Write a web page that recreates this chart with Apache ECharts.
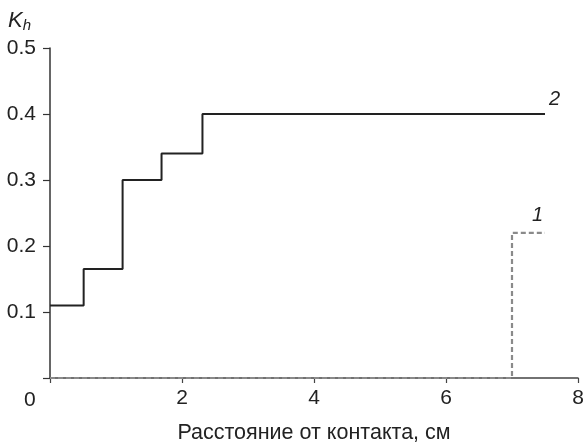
<!DOCTYPE html>
<html>
<head>
<meta charset="utf-8">
<script src="https://cdn.jsdelivr.net/npm/echarts@6/dist/echarts.min.js"></script>
<style>
  html, body { margin: 0; padding: 0; background: #fff; }
  #chart { width: 585px; height: 443px; }
</style>
</head>
<body>
<div id="chart"></div>
<script>
// Step curves of the coefficient K_h versus distance from the contact
const curve2X = [0, 0.51, 1.1, 1.69, 2.31, 7.5];
const curve2Y = [0.11, 0.165, 0.3, 0.34, 0.4, 0.4];
const curve1X = [0, 7.0, 7.5];
const curve1Y = [0, 0.22, 0.22];
const xTicks = [0, 2, 4, 6, 8];
const yTicks = [0.1, 0.2, 0.3, 0.4, 0.5];
const curveNames = ['1', '2'];

const FONT = '"Liberation Sans", Arial, Helvetica, sans-serif';
const TEXT = '#222';

function pairs(xs, ys) { return xs.map((x, i) => [x, ys[i]]); }

function endTag(text, offset) {
  return { show: true, formatter: text, offset: offset, distance: 0,
    fontFamily: FONT, fontSize: 20, fontStyle: 'italic', color: TEXT };
}

const chart = echarts.init(document.getElementById('chart'));
chart.setOption({
  animation: false,
  grid: { left: 50, right: 7, top: 48, bottom: 65, containLabel: false, outerBoundsMode: 'none' },
  xAxis: {
    type: 'value', min: 0, max: 8, interval: 2,
    name: 'Расстояние от контакта, см', nameLocation: 'middle', nameGap: 44,
    nameTextStyle: { fontFamily: FONT, fontSize: 21.5, color: TEXT },
    axisLine: { lineStyle: { color: '#444', width: 1.5 } },
    axisTick: { show: true, length: 5, inside: false, lineStyle: { color: '#444', width: 1.2 } },
    axisLabel: { fontFamily: FONT, fontSize: 21, color: TEXT, margin: 10,
      formatter: v => (v !== 0 && xTicks.includes(v) ? String(v) : '') },
    splitLine: { show: false }
  },
  yAxis: {
    type: 'value', min: 0, max: 0.5, interval: 0.1,
    axisLine: { show: true, lineStyle: { color: '#333', width: 1.5 } },
    axisTick: { show: true, length: 7, lineStyle: { color: '#333', width: 1.2 } },
    axisLabel: { fontFamily: FONT, fontSize: 21, color: TEXT, margin: 14,
      formatter: v => (yTicks.some(t => Math.abs(t - v) < 1e-9) ? v.toFixed(1) : '') },
    splitLine: { show: false }
  },
  graphic: [
    { type: 'text', left: 8, top: 10,
      style: { text: '{k|K}{h|h}', fill: TEXT,
        rich: { k: { fontFamily: FONT, fontSize: 22, fontStyle: 'italic', fill: TEXT },
                h: { fontFamily: FONT, fontSize: 15, fontStyle: 'italic', fill: TEXT, padding: [10, 0, 0, 0] } } } },
    { type: 'text', left: 24, top: 390,
      style: { text: '0', fontFamily: FONT, fontSize: 21, fill: TEXT } }
  ],
  series: [
    {
      name: curveNames[1], type: 'line', step: 'end', symbol: 'none', z: 3,
      lineStyle: { color: '#222', width: 2 },
      endLabel: endTag(curveNames[1], [4, -15]),
      data: pairs(curve2X, curve2Y)
    },
    {
      name: curveNames[0], type: 'line', step: 'end', symbol: 'none', z: 4,
      lineStyle: { color: '#8a8a8a', width: 2.2, type: [5, 3] },
      endLabel: endTag(curveNames[0], [-13, -17]),
      data: pairs(curve1X, curve1Y)
    }
  ]
});
</script>
</body>
</html>
